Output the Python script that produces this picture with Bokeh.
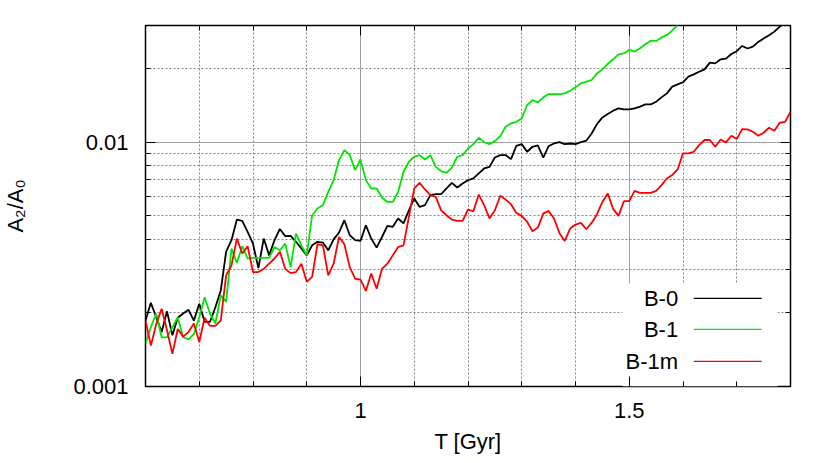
from bokeh.plotting import figure
from bokeh.models import (Range1d, FixedTicker, CustomJSTickFormatter, LinearAxis, LogAxis,
                          BoxAnnotation, Label, Arrow, CustomLabelingPolicy)
from bokeh.embed import file_html
from bokeh.resources import INLINE

# ---------------- data ----------------
t_gyr = [0.60, 0.61, 0.62, 0.63, 0.64, 0.65, 0.66, 0.67, 0.68, 0.69,
         0.70, 0.71, 0.72, 0.73, 0.74, 0.75, 0.76, 0.77, 0.78, 0.79,
         0.80, 0.81, 0.82, 0.83, 0.84, 0.85, 0.86, 0.87, 0.88, 0.89,
         0.90, 0.91, 0.92, 0.93, 0.94, 0.95, 0.96, 0.97, 0.98, 0.99,
         1.00, 1.01, 1.02, 1.03, 1.04, 1.05, 1.06, 1.07, 1.08, 1.09,
         1.10, 1.11, 1.12, 1.13, 1.14, 1.15, 1.16, 1.17, 1.18, 1.19,
         1.20, 1.21, 1.22, 1.23, 1.24, 1.25, 1.26, 1.27, 1.28, 1.29,
         1.30, 1.31, 1.32, 1.33, 1.34, 1.35, 1.36, 1.37, 1.38, 1.39,
         1.40, 1.41, 1.42, 1.43, 1.44, 1.45, 1.46, 1.47, 1.48, 1.49,
         1.50, 1.51, 1.52, 1.53, 1.54, 1.55, 1.56, 1.57, 1.58, 1.59,
         1.60, 1.61, 1.62, 1.63, 1.64, 1.65, 1.66, 1.67, 1.68, 1.69,
         1.70, 1.71, 1.72, 1.73, 1.74, 1.75, 1.76, 1.77, 1.78, 1.79,
         1.80]

b0 = [0.00186, 0.00220, 0.00192, 0.00167, 0.00203, 0.00162, 0.00191, 0.00199, 0.00206, 0.00186,
      0.00218, 0.00184, 0.00184, 0.00211, 0.00247, 0.00356, 0.00397, 0.00482, 0.00476, 0.00429,
      0.00384, 0.00305, 0.00403, 0.00344, 0.00397, 0.00441, 0.00412, 0.00413, 0.00391, 0.00367,
      0.00344, 0.00378, 0.00391, 0.00388, 0.00361, 0.00400, 0.00426, 0.00479, 0.00416, 0.00397,
      0.00394, 0.00457, 0.00403, 0.00370, 0.00409, 0.00454, 0.00450, 0.00487, 0.00465, 0.00526,
      0.00588, 0.00543, 0.00552, 0.00607, 0.00612, 0.00612, 0.00646, 0.00681, 0.00652, 0.00677,
      0.00698, 0.00710, 0.00745, 0.00780, 0.00792, 0.00865, 0.00885, 0.00885, 0.00852, 0.00966,
      0.00981, 0.00913, 0.00957, 0.00969, 0.00863, 0.00963, 0.00987, 0.01000, 0.00981, 0.00987,
      0.00981, 0.01000, 0.01013, 0.01085, 0.01185, 0.01262, 0.01303, 0.01344, 0.01374, 0.01361,
      0.01361, 0.01374, 0.01396, 0.01426, 0.01426, 0.01463, 0.01524, 0.01583, 0.01686, 0.01722,
      0.01757, 0.01854, 0.01893, 0.01941, 0.01985, 0.02114, 0.02099, 0.02182, 0.02195, 0.02294,
      0.02355, 0.02474, 0.02415, 0.02460, 0.02570, 0.02652, 0.02735, 0.02832, 0.02970, 0.03083,
      0.03200]

b1 = [0.00150, 0.00175, 0.00199, 0.00159, 0.00159, 0.00175, 0.00192, 0.00159, 0.00156, 0.00164,
      0.00192, 0.00232, 0.00199, 0.00181, 0.00236, 0.00222, 0.00367, 0.00320, 0.00375, 0.00334,
      0.00336, 0.00336, 0.00336, 0.00336, 0.00372, 0.00361, 0.00384, 0.00308, 0.00422, 0.00378,
      0.00344, 0.00502, 0.00535, 0.00552, 0.00626, 0.00699, 0.00844, 0.00927, 0.00885, 0.00768,
      0.00849, 0.00699, 0.00646, 0.00646, 0.00593, 0.00569, 0.00569, 0.00626, 0.00756, 0.00831,
      0.00871, 0.00885, 0.00849, 0.00885, 0.00792, 0.00761, 0.00749, 0.00787, 0.00871, 0.00885,
      0.00942, 0.00981, 0.01042, 0.01000, 0.00981, 0.01010, 0.01058, 0.01156, 0.01193, 0.01211,
      0.01250, 0.01418, 0.01486, 0.01454, 0.01524, 0.01573, 0.01573, 0.01573, 0.01583, 0.01623,
      0.01675, 0.01740, 0.01767, 0.01795, 0.01910, 0.01985, 0.02088, 0.02182, 0.02287, 0.02308,
      0.02383, 0.02345, 0.02420, 0.02513, 0.02601, 0.02594, 0.02677, 0.02745, 0.02858, 0.03017,
      0.03210]

b1m = [0.00186, 0.00147, 0.00180, 0.00208, 0.00170, 0.00136, 0.00172, 0.00160, 0.00167, 0.00181,
       0.00152, 0.00191, 0.00177, 0.00177, 0.00186, 0.00285, 0.00313, 0.00403, 0.00350, 0.00375,
       0.00294, 0.00294, 0.00303, 0.00318, 0.00334, 0.00356, 0.00303, 0.00291, 0.00294, 0.00318,
       0.00268, 0.00281, 0.00382, 0.00378, 0.00285, 0.00318, 0.00409, 0.00382, 0.00308, 0.00276,
       0.00274, 0.00246, 0.00290, 0.00251, 0.00303, 0.00318, 0.00344, 0.00372, 0.00378, 0.00494,
       0.00646, 0.00681, 0.00640, 0.00607, 0.00597, 0.00526, 0.00502, 0.00482, 0.00476, 0.00476,
       0.00530, 0.00521, 0.00610, 0.00552, 0.00487, 0.00526, 0.00603, 0.00582, 0.00557, 0.00513,
       0.00499, 0.00472, 0.00432, 0.00447, 0.00510, 0.00523, 0.00487, 0.00425, 0.00394, 0.00443,
       0.00460, 0.00467, 0.00440, 0.00467, 0.00507, 0.00569, 0.00616, 0.00533, 0.00499, 0.00573,
       0.00573, 0.00632, 0.00620, 0.00620, 0.00620, 0.00632, 0.00667, 0.00710, 0.00733, 0.00773,
       0.00899, 0.00899, 0.00913, 0.00972, 0.01020, 0.01020, 0.00957, 0.01025, 0.00997, 0.01062,
       0.01029, 0.01130, 0.01127, 0.01102, 0.01062, 0.01092, 0.01145, 0.01113, 0.01200, 0.01211,
       0.01331]

series_names = ["B-0", "B-1", "B-1m"]
series_values = [b0, b1, b1m]
series_colors = ["#000000", "#00e600", "#ff0000"]

x_major_ticks = [1.0, 1.5]
x_minor_ticks = [0.7, 0.8, 0.9, 1.1, 1.2, 1.3, 1.4, 1.6, 1.7]
y_major_ticks = [0.001, 0.01]
y_minor_ticks = [0.002, 0.003, 0.004, 0.005, 0.006, 0.007, 0.008, 0.009, 0.02, 0.03]

x_label = "T [Gyr]"
y_label = "A\u2082/A\u2080"

# ---------------- styling ----------------
FONT = "Liberation Sans"
FS = "22px"

p = figure(width=822, height=463,
           x_range=Range1d(0.6, 1.8), y_range=Range1d(0.001, 0.03),
           y_axis_type="log",
           output_backend="svg", toolbar_location=None,
           min_border_left=145, min_border_right=32,
           min_border_top=25, min_border_bottom=77)

p.outline_line_color = "black"
p.outline_line_width = 1.5
p.background_fill_color = "white"
p.border_fill_color = "white"

xt = FixedTicker(ticks=x_major_ticks, minor_ticks=x_minor_ticks)
yt = FixedTicker(ticks=y_major_ticks, minor_ticks=y_minor_ticks)
fmt = CustomJSTickFormatter(code="return tick.toString();")
no_labels = CustomLabelingPolicy(code="for (const i of indices) { indices.unset(i) } return indices;")

def style_axis(ax, ticker, show_labels):
    ax.ticker = ticker
    ax.formatter = fmt
    ax.axis_line_color = None
    ax.major_tick_in = 10
    ax.major_tick_out = 0
    ax.minor_tick_in = 5
    ax.minor_tick_out = 0
    ax.major_tick_line_color = "black"
    ax.minor_tick_line_color = "black"
    ax.major_tick_line_width = 1
    ax.minor_tick_line_width = 1
    if show_labels:
        ax.major_label_text_font = FONT
        ax.major_label_text_font_size = FS
        ax.major_label_text_color = "black"
        ax.axis_label_text_font = FONT
        ax.axis_label_text_font_size = FS
        ax.axis_label_text_font_style = "normal"
        ax.axis_label_text_color = "black"
    else:
        ax.major_label_text_font_size = "10px"
        ax.major_label_standoff = 0
        ax.major_label_policy = no_labels

xaxis = p.xaxis[0]
yaxis = p.yaxis[0]
style_axis(xaxis, xt, True)
style_axis(yaxis, yt, True)
xaxis.axis_label = x_label
yaxis.axis_label = y_label
xaxis.major_label_standoff = 16
xaxis.axis_label_standoff = 8
yaxis.major_label_standoff = 17
yaxis.axis_label_standoff = 42

top_axis = LinearAxis()
style_axis(top_axis, xt, False)
p.add_layout(top_axis, "above")
right_axis = LogAxis()
style_axis(right_axis, yt, False)
p.add_layout(right_axis, "right")

for g, tk in ((p.xgrid[0], xt), (p.ygrid[0], yt)):
    g.ticker = tk
    g.grid_line_color = "#a0a0a0"
    g.grid_line_width = 1
    g.minor_grid_line_color = "#858585"
    g.minor_grid_line_width = 1
    g.minor_grid_line_dash = "2 2"

# white legend background that hides the grid
p.add_layout(BoxAnnotation(left=1.4875, right=1.7762, bottom=0.001, top=0.00264,
                           fill_color="white", fill_alpha=1.0, line_color=None,
                           level="underlay"))

for name, vals, col in zip(series_names, series_values, series_colors):
    p.line(t_gyr[:len(vals)], vals, line_color=col, line_width=1.8)

# legend: text on the left, line sample on the right
legend_text_x = 1.591
legend_line_x = (1.620, 1.7465)
legend_rows_y = [0.002296, 0.001713, 0.001267]
for name, col, yy in zip(series_names, series_colors, legend_rows_y):
    p.add_layout(Label(x=legend_text_x, y=yy, text=name, text_align="right",
                       text_baseline="middle", text_font=FONT, text_font_size=FS,
                       text_color="black"))
    p.add_layout(Arrow(end=None, x_start=legend_line_x[0], y_start=yy,
                       x_end=legend_line_x[1], y_end=yy,
                       line_color=col, line_width=1.3))

open("out.html", "w").write(file_html(p, INLINE))
